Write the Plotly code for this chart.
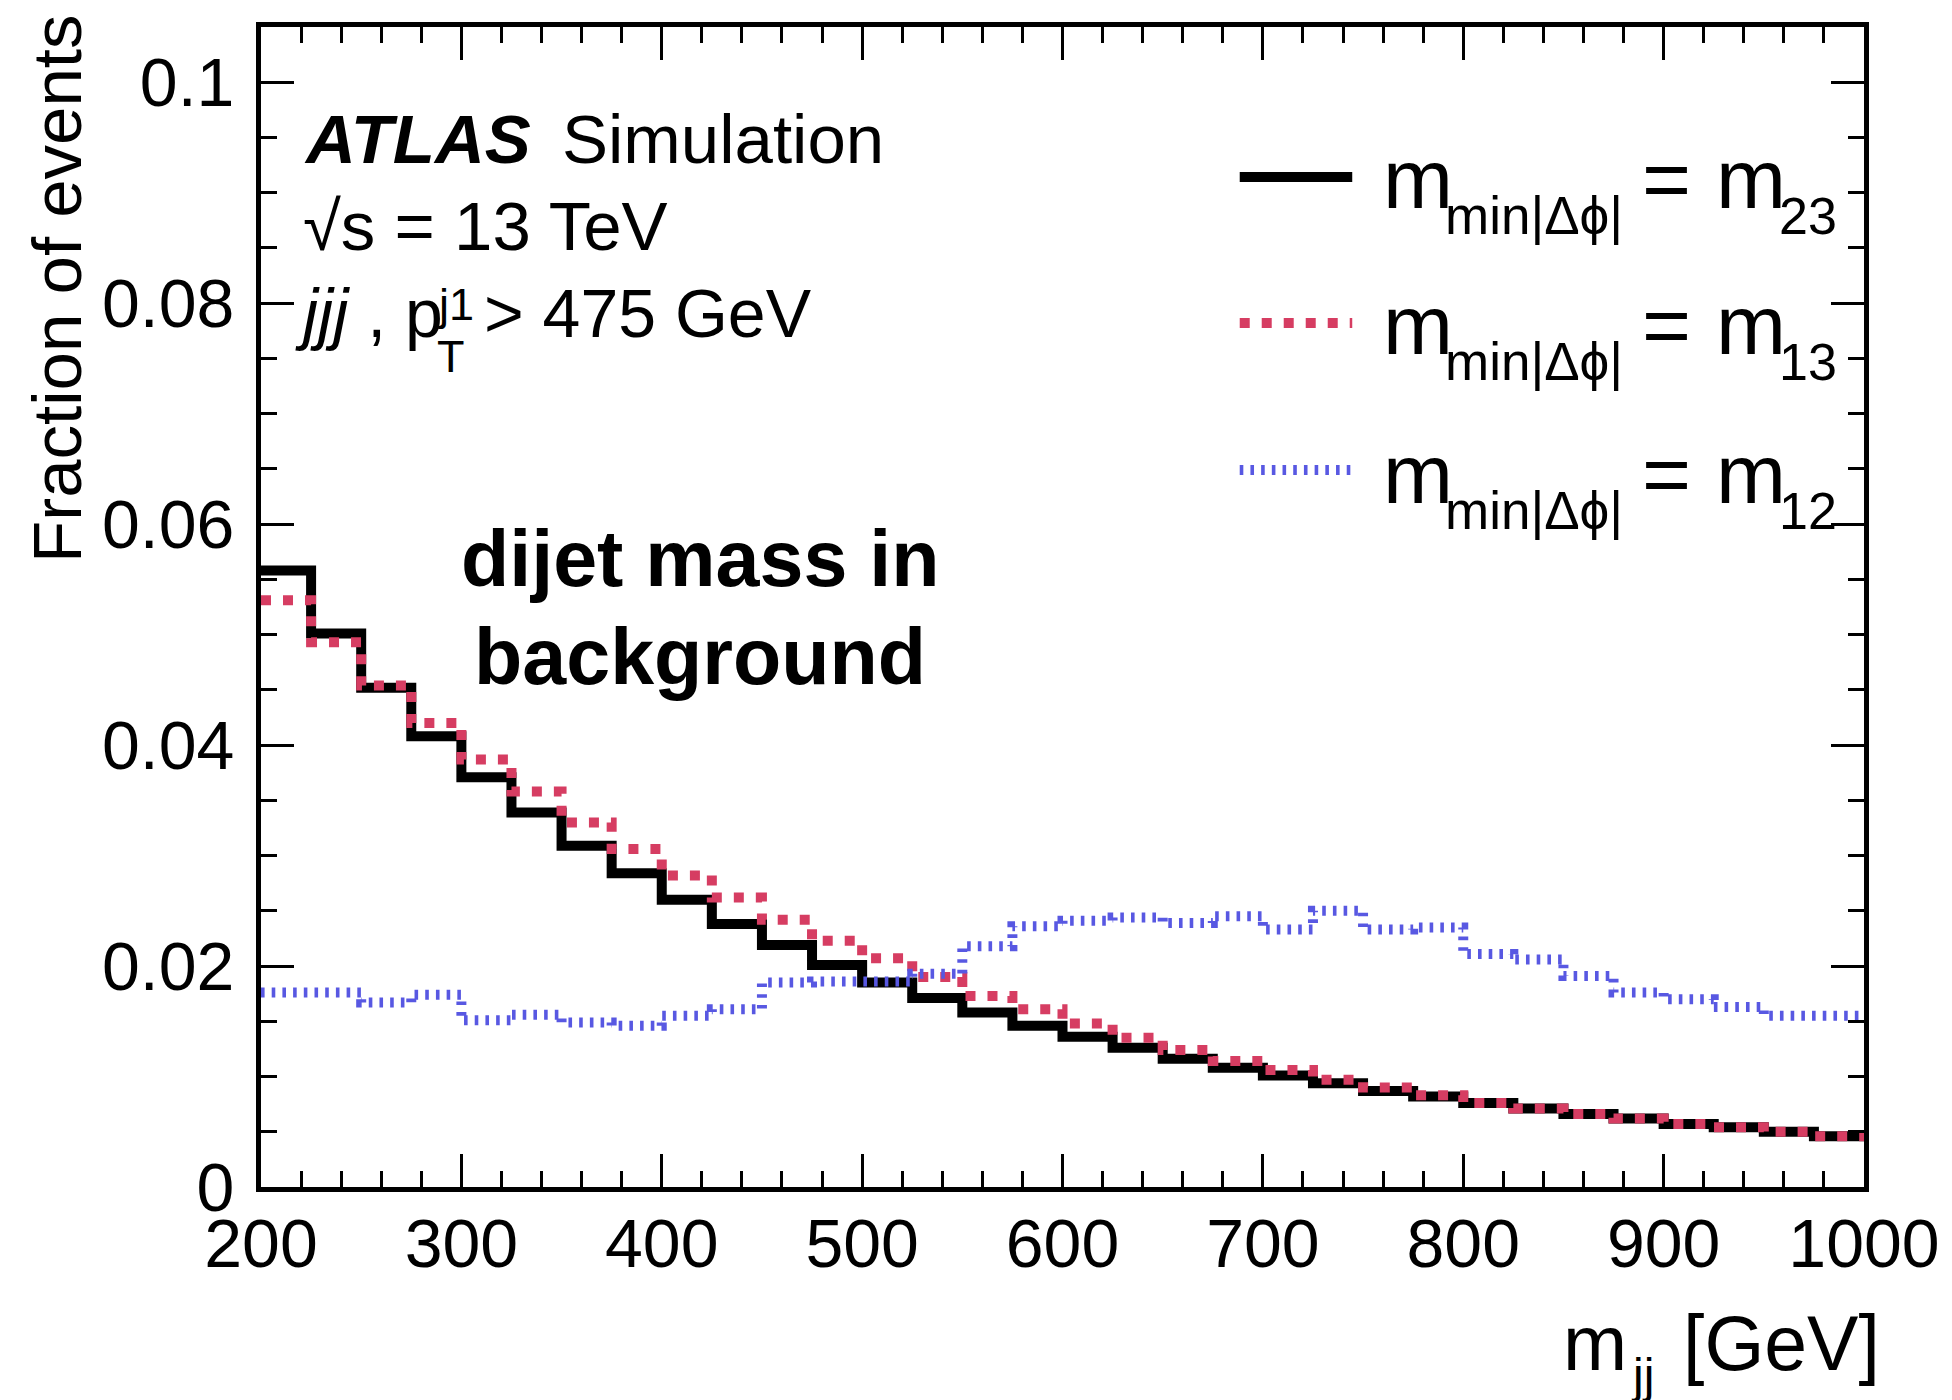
import plotly.graph_objects as go

# ---------------- data ----------------
bin_edges = [200, 225, 250, 275, 300, 325, 350, 375, 400, 425, 450, 475, 500,
             525, 550, 575, 600, 625, 650, 675, 700, 725, 750, 775, 800, 825,
             850, 875, 900, 925, 950, 975, 1000]

m23_frac = [0.0558, 0.0501, 0.0452, 0.0408, 0.0371, 0.0339, 0.0309, 0.0284,
            0.0260, 0.0238, 0.0219, 0.0201, 0.0185, 0.0171, 0.0158, 0.0146,
            0.0136, 0.0126, 0.0116, 0.0108, 0.0101, 0.0094, 0.0087, 0.0082,
            0.0076, 0.0071, 0.0066, 0.0062, 0.0057, 0.0054, 0.0050, 0.0046]

m13_frac = [0.0531, 0.0493, 0.0454, 0.0420, 0.0387, 0.0358, 0.0330, 0.0306,
            0.0282, 0.0262, 0.0242, 0.0223, 0.0207, 0.0190, 0.0173, 0.0161,
            0.0148, 0.0135, 0.0124, 0.0114, 0.0106, 0.0097, 0.0090, 0.0083,
            0.0076, 0.0071, 0.0066, 0.0062, 0.0057, 0.0054, 0.0050, 0.0046]

m12_frac = [0.0176, 0.0176, 0.0167, 0.0174, 0.0151, 0.0156, 0.0149, 0.0146,
            0.0155, 0.0161, 0.0185, 0.0186, 0.0186, 0.0193, 0.0218, 0.0236,
            0.0241, 0.0244, 0.0239, 0.0245, 0.0233, 0.0250, 0.0233, 0.0235,
            0.0211, 0.0206, 0.0191, 0.0176, 0.0170, 0.0163, 0.0155, 0.0155]

x_range = [200, 1000]
y_range = [0, 0.105]

# ---------------- styles ----------------
FONT = "Liberation Sans, Arial, Helvetica, sans-serif"
BLACK = "#000000"
RED = "#d63d62"
BLUE = "#5858e2"

series = [
    ("m23", m23_frac, BLACK, "solid"),
    ("m13", m13_frac, RED, "10px,12px"),
    ("m12", m12_frac, BLUE, "3.6px,7.1px"),
]

# plot-area pixel geometry
L, R, T, B = 261, 1871, 27, 1187
W_PA, H_PA = R - L, B - T


def fx(px):
    return (px - L) / W_PA


def fy(py):
    return (B - py) / H_PA


fig = go.Figure()
for name, vals, col, dash in series:
    fig.add_trace(go.Scatter(
        x=bin_edges, y=list(vals) + [vals[-1]],
        mode="lines", line=dict(shape="hv", color=col, width=10, dash=dash),
        name=name, showlegend=False, hoverinfo="skip"))

annotations = []


def txt(text, xpx, base, size, xanchor="left", bold=False, angle=0, ypx=None):
    if bold:
        text = "<b>" + text + "</b>"
    y = fy(ypx) if ypx is not None else fy(base - 0.347 * size)
    annotations.append(dict(
        text=text, x=fx(xpx), y=y, xref="paper", yref="paper",
        xanchor=xanchor, yanchor="middle", showarrow=False,
        textangle=angle, font=dict(family=FONT, size=size, color="black")))


# ATLAS label block
txt("<i>ATLAS</i>", 302, 163, 69, bold=True)
txt("Simulation", 561, 163, 69)
txt("\u221as = 13 TeV", 301, 250, 69)
txt("<i>jjj</i> , p", 293, 337, 68)
txt("T", 436, 372, 45)
txt("j1", 436, 320, 45)
txt("> 475 GeV", 483, 337, 68)

# dijet text
txt("dijet mass in", 702, 586, 79, xanchor="center", bold=True)
txt("background", 702, 684, 79, xanchor="center", bold=True)

# legend
leg_base = [208, 354, 503]
leg_line_y = [177, 323, 470]
leg_sub = ["23", "13", "12"]
shapes = []
for i, (name, vals, col, dash) in enumerate(series):
    b = leg_base[i]
    txt("m", 1386, b, 84)
    txt("min|\u0394\u03d5|", 1448, b + 26, 53)
    txt("=", 1646, b, 84)
    txt("m", 1720, b, 84)
    txt(leg_sub[i], 1784, b + 26, 52)
    shapes.append(dict(type="line", xref="paper", yref="paper",
                       x0=fx(1244), x1=fx(1357), y0=fy(leg_line_y[i]), y1=fy(leg_line_y[i]),
                       line=dict(color=col, width=10, dash=dash)))

# axis titles
txt("m", 1567, 1370, 77)
txt("jj", 1635, 1392, 48)
txt("[GeV]", 1889, 1370, 77, xanchor="right")
txt("Fraction of events", 57, None, 69, xanchor="center", angle=-90, ypx=289)

axis_common = dict(
    showline=True, linewidth=5, linecolor="black", mirror="ticks",
    ticks="inside", ticklen=33, tickwidth=3, tickcolor="black",
    showgrid=False, zeroline=False,
    tickfont=dict(family=FONT, size=68, color="black"),
)

fig.update_layout(
    width=1952, height=1400,
    margin=dict(l=L, r=1952 - R, t=T, b=1400 - B),
    paper_bgcolor="white", plot_bgcolor="white",
    xaxis=dict(range=x_range, tick0=200, dtick=100,
               minor=dict(dtick=20, ticklen=16, tickwidth=3, ticks="inside",
                          tickcolor="black", showgrid=False),
               ticklabelstandoff=-7, **axis_common),
    yaxis=dict(range=y_range, tick0=0, dtick=0.02,
               minor=dict(dtick=0.005, ticklen=16, tickwidth=3, ticks="inside",
                          tickcolor="black", showgrid=False),
               ticklabelstandoff=8, **axis_common),
    annotations=annotations,
    shapes=shapes,
    showlegend=False,
)

fig.write_html("out.html")
